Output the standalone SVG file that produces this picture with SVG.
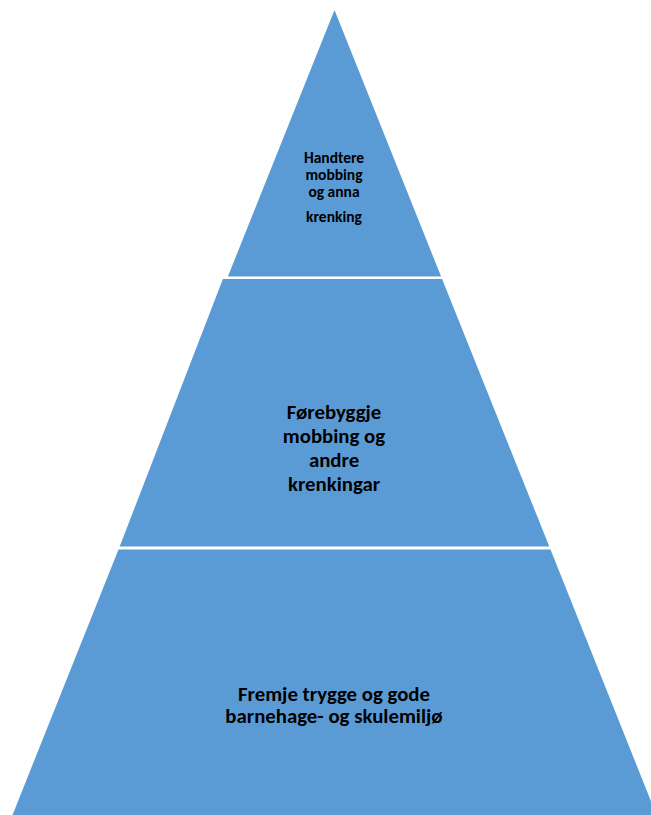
<svg xmlns="http://www.w3.org/2000/svg" width="651" height="815" viewBox="0 0 651 815">
<style>
.tier{fill:#5B9BD5;stroke:none}
.lbl{font-family:Carlito,Calibri,Lato,"Liberation Sans",sans-serif;font-weight:bold;fill:#000;text-anchor:middle}
.s{font-size:15.5px}
.m{font-size:20.8px}
</style>
<rect width="651" height="815" fill="#fff"/>
<g id="tier-top">
<polygon class="tier" points="334.5,10 441.1,276.5 227.9,276.5"/>
<text class="lbl s" x="334" y="163">Handtere</text>
<text class="lbl s" x="334" y="180">mobbing</text>
<text class="lbl s" x="334" y="197">og anna</text>
<text class="lbl s" x="334" y="222">krenking</text>
</g>
<g id="tier-middle">
<polygon class="tier" points="222.9,279 442.1,279 549.3,546.5 119.7,546.5"/>
<text class="lbl m" x="334" y="419">Førebyggje</text>
<text class="lbl m" x="334" y="443">mobbing og</text>
<text class="lbl m" x="334" y="467">andre</text>
<text class="lbl m" x="334" y="491">krenkingar</text>
</g>
<g id="tier-bottom">
<polygon class="tier" points="118.5,549.5 550.5,549.5 656.5,815 12.5,815"/>
<text class="lbl m" x="334" y="701">Fremje trygge og gode</text>
<text class="lbl m" x="334" y="723">barnehage- og skulemiljø</text>
</g>
<g id="connectors"/>
</svg>
